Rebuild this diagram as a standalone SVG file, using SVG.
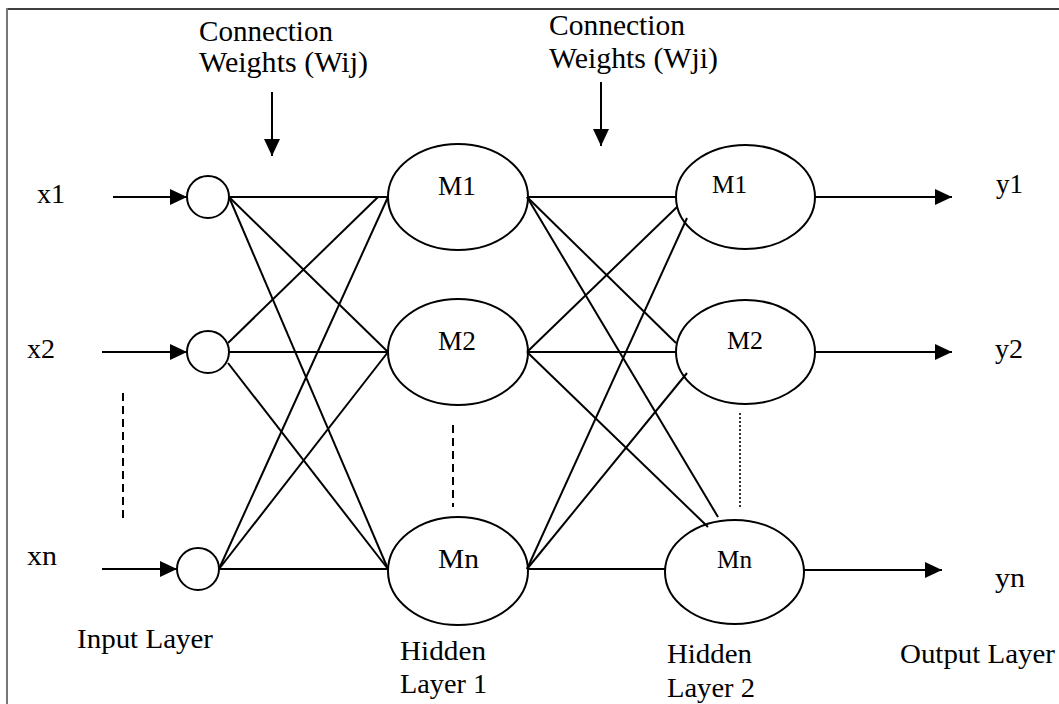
<svg xmlns="http://www.w3.org/2000/svg" width="1059" height="704" viewBox="0 0 1059 704">
<defs>
<style>
text{fill:#000;font-family:"Liberation Serif","Times New Roman",serif}
.n{fill:#fff;stroke:#000;stroke-width:2}
.c{stroke:#000;stroke-width:2;fill:none}
.a{stroke:#000;stroke-width:2;fill:none;marker-end:url(#ah)}
.dash{stroke:#000;stroke-width:2;stroke-dasharray:8 5}
.dot{stroke:#000;stroke-width:1.6;stroke-dasharray:2 2}
</style>
<marker id="ah" viewBox="0 0 17 16" refX="17" refY="8" markerWidth="17" markerHeight="16" markerUnits="userSpaceOnUse" orient="auto">
<path d="M0,0 L17,8 L0,16 z" fill="#000"/>
</marker>
</defs>
<rect width="1059" height="704" fill="#fff"/>
<g id="frame">
<line x1="7" y1="9" x2="1059" y2="9" stroke="#000" stroke-width="1.5"/>
<line x1="7" y1="8" x2="7" y2="704" stroke="#777" stroke-width="2"/>
</g>
<g id="labels">
<text x="199" y="41" font-size="29" textLength="134" lengthAdjust="spacingAndGlyphs">Connection</text>
<text x="199" y="72" font-size="29" textLength="169" lengthAdjust="spacingAndGlyphs">Weights (Wij)</text>
<text x="549" y="35" font-size="29" textLength="136" lengthAdjust="spacingAndGlyphs">Connection</text>
<text x="549" y="68" font-size="29" textLength="169" lengthAdjust="spacingAndGlyphs">Weights (Wji)</text>
<text x="37" y="203" font-size="27" textLength="28" lengthAdjust="spacingAndGlyphs">x1</text>
<text x="27" y="358" font-size="27" textLength="28" lengthAdjust="spacingAndGlyphs">x2</text>
<text x="27" y="565" font-size="27" textLength="30" lengthAdjust="spacingAndGlyphs">xn</text>
<text x="77" y="648" font-size="28" textLength="136" lengthAdjust="spacingAndGlyphs">Input Layer</text>
<text x="400" y="660" font-size="27" textLength="86" lengthAdjust="spacingAndGlyphs">Hidden</text>
<text x="400" y="693" font-size="27" textLength="87" lengthAdjust="spacingAndGlyphs">Layer 1</text>
<text x="667" y="663" font-size="27" textLength="85" lengthAdjust="spacingAndGlyphs">Hidden</text>
<text x="667" y="697" font-size="27" textLength="88" lengthAdjust="spacingAndGlyphs">Layer 2</text>
<text x="996" y="193" font-size="27" textLength="27" lengthAdjust="spacingAndGlyphs">y1</text>
<text x="995" y="358" font-size="27" textLength="28" lengthAdjust="spacingAndGlyphs">y2</text>
<text x="995" y="587" font-size="27" textLength="30" lengthAdjust="spacingAndGlyphs">yn</text>
<text x="900" y="663" font-size="28" textLength="155" lengthAdjust="spacingAndGlyphs">Output Layer</text>
</g>
<g id="input-x1"><circle class="n" cx="208" cy="197" r="21"/></g>
<g id="input-x2"><circle class="n" cx="208" cy="352" r="21"/></g>
<g id="input-xn"><circle class="n" cx="198" cy="569" r="21"/></g>
<g id="h1-m1"><ellipse class="n" cx="458" cy="197" rx="70" ry="53"/><text x="438" y="195" font-size="28" textLength="38" lengthAdjust="spacingAndGlyphs">M1</text></g>
<g id="h1-m2"><ellipse class="n" cx="458" cy="352" rx="70" ry="53"/><text x="438" y="350" font-size="28" textLength="38" lengthAdjust="spacingAndGlyphs">M2</text></g>
<g id="h1-mn"><ellipse class="n" cx="458" cy="571" rx="70" ry="54"/><text x="438" y="568" font-size="28" textLength="41" lengthAdjust="spacingAndGlyphs">Mn</text></g>
<g id="h2-m1"><ellipse class="n" cx="745.5" cy="197" rx="69.5" ry="52"/><text x="712" y="193" font-size="25" textLength="35" lengthAdjust="spacingAndGlyphs">M1</text></g>
<g id="h2-m2"><ellipse class="n" cx="745.5" cy="352" rx="69.5" ry="52"/><text x="727" y="349" font-size="25" textLength="36" lengthAdjust="spacingAndGlyphs">M2</text></g>
<g id="h2-mn"><ellipse class="n" cx="734.5" cy="572" rx="69.5" ry="52"/><text x="717" y="568" font-size="25" textLength="35" lengthAdjust="spacingAndGlyphs">Mn</text></g>
<g id="connectors">
<line class="a" x1="272" y1="92" x2="272" y2="156"/>
<line class="a" x1="601" y1="82" x2="601" y2="146"/>
<line class="a" x1="113" y1="197" x2="187" y2="197"/>
<line class="a" x1="102" y1="352" x2="187" y2="352"/>
<line class="a" x1="102" y1="569" x2="177" y2="569"/>
<line class="c" x1="229" y1="197" x2="388" y2="197"/>
<line class="c" x1="229" y1="197" x2="388" y2="352"/>
<line class="c" x1="229" y1="197" x2="388" y2="569"/>
<line class="c" x1="228" y1="343" x2="378" y2="197"/>
<line class="c" x1="229" y1="352" x2="388" y2="352"/>
<line class="c" x1="228" y1="363" x2="388" y2="569"/>
<line class="c" x1="219" y1="569" x2="388" y2="197"/>
<line class="c" x1="219" y1="569" x2="388" y2="352"/>
<line class="c" x1="219" y1="569" x2="388" y2="569"/>
<line class="c" x1="527" y1="197" x2="676" y2="197"/>
<line class="c" x1="527" y1="197" x2="676" y2="343"/>
<line class="c" x1="527" y1="197" x2="718" y2="517"/>
<line class="c" x1="527" y1="352" x2="677" y2="207"/>
<line class="c" x1="527" y1="352" x2="676" y2="352"/>
<line class="c" x1="527" y1="352" x2="708" y2="527"/>
<line class="c" x1="527" y1="569" x2="687" y2="218"/>
<line class="c" x1="527" y1="569" x2="687" y2="373"/>
<line class="c" x1="527" y1="569" x2="665" y2="569"/>
<line class="a" x1="815" y1="197" x2="952" y2="197"/>
<line class="a" x1="815" y1="352" x2="952" y2="352"/>
<line class="a" x1="804" y1="570" x2="942" y2="570"/>
<line class="dash" x1="123" y1="393" x2="123" y2="523"/>
<line class="dash" x1="453" y1="425" x2="453" y2="507"/>
<line class="dot" x1="740" y1="413" x2="740" y2="507"/>
</g>
</svg>
